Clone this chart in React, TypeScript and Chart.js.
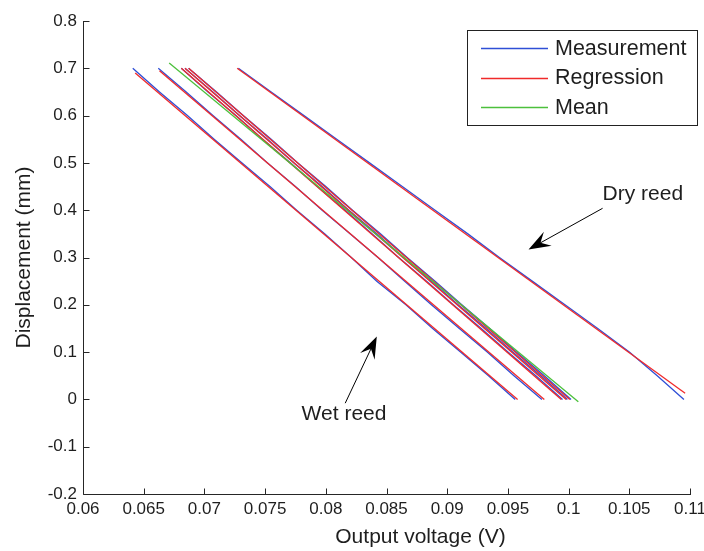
import React, { useEffect, useRef } from 'react';
import { Chart, registerables } from 'chart.js';

Chart.register(...registerables);

const FONT = "'Liberation Sans', Arial, Helvetica, sans-serif";
const TEXT_COLOR = '#1e1e1e';
const AXIS_COLOR = '#262626';
const BLUE = '#2f4fd6';
const RED = '#f02a2a';
const GREEN = '#4cc03c';

// Axis ticks
const xTicks = [0.06, 0.065, 0.07, 0.075, 0.08, 0.085, 0.09, 0.095, 0.1, 0.105, 0.11];
const xTickLabels = ['0.06', '0.065', '0.07', '0.075', '0.08', '0.085', '0.09', '0.095', '0.1', '0.105', '0.11'];
const yTicks = [-0.2, -0.1, 0, 0.1, 0.2, 0.3, 0.4, 0.5, 0.6, 0.7, 0.8];
const yTickLabels = ['-0.2', '-0.1', '0', '0.1', '0.2', '0.3', '0.4', '0.5', '0.6', '0.7', '0.8'];

// Measurement curves: displacement levels (mm) and output voltage (V) per reed test
const measDisplacement = [0.7, 0.65, 0.6, 0.55, 0.5, 0.45, 0.4, 0.35, 0.3, 0.25, 0.2, 0.15, 0.1, 0.05, 0.0];
const measWet1 = [0.0641, 0.0663, 0.0686, 0.0708, 0.0731, 0.0754, 0.0776, 0.0799, 0.0821, 0.0842, 0.0866, 0.0888, 0.0911, 0.0934, 0.0956];
const measWet2 = [0.0662, 0.0685, 0.0707, 0.073, 0.0752, 0.0775, 0.0797, 0.082, 0.0843, 0.0865, 0.0887, 0.091, 0.0933, 0.0955, 0.0978];
const measWet3 = [0.0681, 0.0703, 0.0726, 0.0748, 0.0771, 0.0793, 0.0816, 0.0838, 0.086, 0.0883, 0.0905, 0.0928, 0.095, 0.0973, 0.0995];
const measWet4 = [0.0684, 0.0707, 0.0729, 0.0752, 0.0774, 0.0797, 0.0819, 0.0842, 0.0864, 0.0887, 0.0909, 0.0932, 0.0954, 0.0977, 0.0999];
const measWet5 = [0.0687, 0.071, 0.0732, 0.0755, 0.0777, 0.08, 0.0822, 0.0845, 0.0867, 0.089, 0.0912, 0.0935, 0.0957, 0.098, 0.1002];
const measDry = [0.0728, 0.0755, 0.0782, 0.0809, 0.0836, 0.0863, 0.089, 0.0917, 0.0943, 0.097, 0.0997, 0.1024, 0.105, 0.1073, 0.1095];

// Regression lines: [start, end] voltage and displacement
const regWet1V = [0.0643, 0.0958];
const regWet1D = [0.69, 0.0];
const regWet2V = [0.0663, 0.098];
const regWet2D = [0.695, 0.0];
const regWet3V = [0.0681, 0.0994];
const regWet3D = [0.7, 0.0];
const regWet4V = [0.0684, 0.0998];
const regWet4D = [0.7, 0.0];
const regWet5V = [0.0687, 0.1001];
const regWet5D = [0.7, 0.0];
const regDryV = [0.0727, 0.1096];
const regDryD = [0.7, 0.013];

// Mean line
const meanV = [0.0671, 0.1008];
const meanD = [0.711, -0.005];

// Annotations (data coordinates)
const dryLabel = { text: 'Dry reed', x: 0.1028, y: 0.433 };
const dryArrow = { fromX: 0.1028, fromY: 0.404, toX: 0.0967, toY: 0.317 };
const wetLabel = { text: 'Wet reed', x: 0.0815, y: -0.032 };
const wetArrow = { fromX: 0.0816, fromY: -0.008, toX: 0.0842, toY: 0.133 };
const xTitleCenter = 0.0878;

const legendItems = [
  { label: 'Measurement', color: BLUE },
  { label: 'Regression', color: RED },
  { label: 'Mean', color: GREEN },
];

const pts = (xs: number[], ys: number[]) => xs.map((x, i) => ({ x, y: ys[i] }));

const line = (label: string, data: { x: number; y: number }[], color: string) => ({
  label,
  data,
  showLine: true,
  borderColor: color,
  backgroundColor: color,
  borderWidth: 1.3,
  pointRadius: 0,
  pointHoverRadius: 0,
  fill: false,
  tension: 0,
});

function drawArrow(ctx: CanvasRenderingContext2D, x0: number, y0: number, x1: number, y1: number) {
  const dx = x1 - x0;
  const dy = y1 - y0;
  const len = Math.hypot(dx, dy);
  const ux = dx / len;
  const uy = dy / len;
  const px = -uy;
  const py = ux;
  const L = 22;
  const W = 16;
  ctx.strokeStyle = '#000';
  ctx.lineWidth = 1;
  ctx.beginPath();
  ctx.moveTo(x0, y0);
  ctx.lineTo(x1 - ux * L * 0.6, y1 - uy * L * 0.6);
  ctx.stroke();
  ctx.fillStyle = '#000';
  ctx.beginPath();
  ctx.moveTo(x1, y1);
  ctx.lineTo(x1 - ux * L + px * W / 2, y1 - uy * L + py * W / 2);
  ctx.lineTo(x1 - ux * L * 0.62, y1 - uy * L * 0.62);
  ctx.lineTo(x1 - ux * L - px * W / 2, y1 - uy * L - py * W / 2);
  ctx.closePath();
  ctx.fill();
}

const overlayPlugin = {
  id: 'overlay',
  afterDraw(chart: any) {
    const { ctx, chartArea: ca } = chart;
    const xs = chart.scales.x;
    const ys = chart.scales.y;
    ctx.save();

    // axes with inward ticks
    ctx.strokeStyle = AXIS_COLOR;
    ctx.lineWidth = 1;
    ctx.beginPath();
    const L = Math.round(ca.left) + 0.5;
    const B = Math.round(ca.bottom) + 0.5;
    ctx.moveTo(L, Math.round(ca.top));
    ctx.lineTo(L, B);
    ctx.lineTo(Math.round(ca.right) + 1, B);
    xTicks.forEach((v) => {
      const p = Math.round(xs.getPixelForValue(v)) + 0.5;
      ctx.moveTo(p, B);
      ctx.lineTo(p, B - 6);
    });
    yTicks.forEach((v) => {
      const p = Math.round(ys.getPixelForValue(v)) + 0.5;
      ctx.moveTo(L, p);
      ctx.lineTo(L + 6, p);
    });
    ctx.stroke();

    // annotations
    ctx.fillStyle = TEXT_COLOR;
    ctx.font = `21px ${FONT}`;
    ctx.textBaseline = 'middle';
    ctx.textAlign = 'left';
    ctx.fillText(dryLabel.text, xs.getPixelForValue(dryLabel.x), ys.getPixelForValue(dryLabel.y));
    ctx.textAlign = 'center';
    ctx.fillText(wetLabel.text, xs.getPixelForValue(wetLabel.x), ys.getPixelForValue(wetLabel.y));
    drawArrow(ctx, xs.getPixelForValue(dryArrow.fromX), ys.getPixelForValue(dryArrow.fromY), xs.getPixelForValue(dryArrow.toX), ys.getPixelForValue(dryArrow.toY));
    drawArrow(ctx, xs.getPixelForValue(wetArrow.fromX), ys.getPixelForValue(wetArrow.fromY), xs.getPixelForValue(wetArrow.toX), ys.getPixelForValue(wetArrow.toY));

    // x axis title
    ctx.fillStyle = TEXT_COLOR;
    ctx.textAlign = 'center';
    ctx.textBaseline = 'middle';
    ctx.font = `21px ${FONT}`;
    ctx.fillText('Output voltage (V)', xs.getPixelForValue(xTitleCenter), chart.height - 14);

    // legend
    const bw = 230;
    const bh = 95;
    const bx = Math.round(ca.right) + 7 - bw;
    const by = Math.round(ca.top) + 9;
    ctx.fillStyle = '#fff';
    ctx.fillRect(bx, by, bw, bh);
    ctx.strokeStyle = '#222';
    ctx.lineWidth = 1;
    ctx.strokeRect(bx + 0.5, by + 0.5, bw, bh);
    legendItems.forEach((item, i) => {
      const ry = by + 18 + i * 29.5;
      ctx.strokeStyle = item.color;
      ctx.lineWidth = 1.3;
      ctx.beginPath();
      ctx.moveTo(bx + 14, Math.round(ry) + 0.5);
      ctx.lineTo(bx + 81, Math.round(ry) + 0.5);
      ctx.stroke();
      ctx.fillStyle = TEXT_COLOR;
      ctx.textAlign = 'left';
      ctx.textBaseline = 'middle';
      ctx.font = `21.5px ${FONT}`;
      ctx.fillText(item.label, bx + 88, ry + 1);
    });
    ctx.restore();
  },
};

export default function App() {
  const ref = useRef<HTMLCanvasElement>(null);

  useEffect(() => {
    const canvas = ref.current;
    if (!canvas) return;
    const datasets: any[] = [
      line('Mean', pts(meanV, meanD), GREEN),
      line('Regression', pts(regWet1V, regWet1D), RED),
      line('Regression', pts(regWet2V, regWet2D), RED),
      line('Regression', pts(regWet3V, regWet3D), RED),
      line('Regression', pts(regWet4V, regWet4D), RED),
      line('Regression', pts(regWet5V, regWet5D), RED),
      line('Regression', pts(regDryV, regDryD), RED),
      line('Measurement', pts(measWet1, measDisplacement), BLUE),
      line('Measurement', pts(measWet2, measDisplacement), BLUE),
      line('Measurement', pts(measWet3, measDisplacement), BLUE),
      line('Measurement', pts(measWet4, measDisplacement), BLUE),
      line('Measurement', pts(measWet5, measDisplacement), BLUE),
      line('Measurement', pts(measDry, measDisplacement), BLUE),
    ];

    const chart = new Chart(canvas, {
      type: 'scatter',
      data: { datasets },
      options: {
        responsive: false,
        animation: false,
        devicePixelRatio: 1,
        layout: { padding: { left: 0, right: 14, top: 21, bottom: 0 } },
        plugins: {
          legend: { display: false },
          tooltip: { enabled: false },
        },
        events: [],
        scales: {
          x: {
            type: 'linear',
            min: 0.06,
            max: 0.11,
            grid: { display: false, drawTicks: false },
            border: { display: false },
            afterBuildTicks: (scale: any) => {
              scale.ticks = xTicks.map((v) => ({ value: v }));
            },
            afterFit: (scale: any) => {
              scale.height = 57;
              scale.paddingLeft = 0;
              scale.paddingRight = 0;
            },
            ticks: {
              autoSkip: false,
              maxRotation: 0,
              padding: 5,
              color: TEXT_COLOR,
              font: { family: FONT, size: 17 },
              callback: (_v: any, i: number) => xTickLabels[i],
            },
          },
          y: {
            type: 'linear',
            min: -0.2,
            max: 0.8,
            grid: { display: false, drawTicks: false },
            border: { display: false },
            afterBuildTicks: (scale: any) => {
              scale.ticks = yTicks.map((v) => ({ value: v }));
            },
            afterFit: (scale: any) => {
              scale.width = 83;
              scale.paddingTop = 0;
              scale.paddingBottom = 0;
            },
            title: {
              display: true,
              text: 'Displacement (mm)',
              color: TEXT_COLOR,
              font: { family: FONT, size: 21 },
              padding: { top: 12, bottom: 0 },
            },
            ticks: {
              autoSkip: false,
              padding: 6,
              color: TEXT_COLOR,
              font: { family: FONT, size: 17 },
              callback: (_v: any, i: number) => yTickLabels[i],
            },
          },
        },
      },
      plugins: [overlayPlugin],
    } as any);

    return () => chart.destroy();
  }, []);

  return (
    <div style={{ position: 'absolute', left: 0, top: 0, width: 704, height: 551, background: '#fff' }}>
      <canvas ref={ref} width={704} height={551} style={{ display: 'block', width: 704, height: 551 }} />
    </div>
  );
}
